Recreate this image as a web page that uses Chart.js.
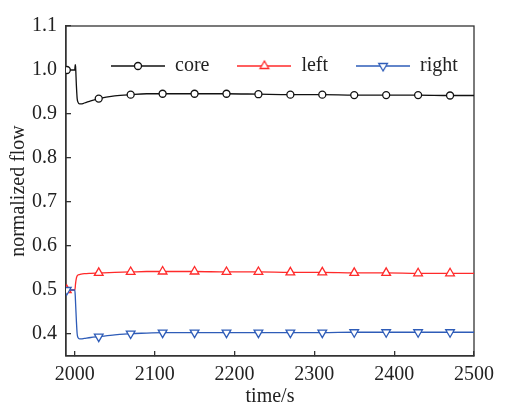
<!DOCTYPE html>
<html><head><meta charset="utf-8">
<script src="https://cdn.jsdelivr.net/npm/chart.js@4/dist/chart.umd.min.js"></script>
<style>html,body{margin:0;padding:0;background:#fff}#wrap{width:506px;height:407px;position:relative}</style>
</head><body><div id="wrap"><canvas id="c"></canvas></div>
<script>
// ---- data ----
const time  = [1990, 1995, 1999.5, 2000, 2000.5, 2001, 2002, 2003, 2004, 2006, 2008, 2012, 2020, 2030, 2050, 2070, 2090, 2110, 2150, 2190, 2230, 2270, 2310, 2350, 2390, 2430, 2470, 2500];
const core  = [1.000, 1.000, 1.000, 1.000, 1.012, 1.008, 0.965, 0.935, 0.927, 0.923, 0.923, 0.925, 0.930, 0.935, 0.941, 0.944, 0.946, 0.946, 0.946, 0.946, 0.945, 0.944, 0.944, 0.943, 0.943, 0.943, 0.942, 0.942];
const left  = [0.500, 0.500, 0.500, 0.500, 0.505, 0.515, 0.527, 0.532, 0.534, 0.535, 0.536, 0.537, 0.538, 0.539, 0.540, 0.541, 0.542, 0.542, 0.542, 0.541, 0.541, 0.540, 0.540, 0.539, 0.539, 0.538, 0.538, 0.538];
const right = [0.500, 0.500, 0.500, 0.500, 0.490, 0.470, 0.430, 0.400, 0.392, 0.389, 0.389, 0.390, 0.392, 0.394, 0.398, 0.401, 0.402, 0.403, 0.403, 0.403, 0.403, 0.403, 0.403, 0.404, 0.404, 0.404, 0.404, 0.404];
const markerTimes = [1990, 2030, 2070, 2110, 2150, 2190, 2230, 2270, 2310, 2350, 2390, 2430, 2470];
const seriesNames = ['core', 'left', 'right'];
const xTicks = [2000, 2100, 2200, 2300, 2400, 2500];
const yTicks = [0.4, 0.5, 0.6, 0.7, 0.8, 0.9, 1.0, 1.1];

// ---- styles ----
const FONT = 'Liberation Serif, Times New Roman, serif';
const TXT = '#222';
const AX = '#333';
const colors = ['#111111', '#ff2a2a', '#2e5cb8'];
const styles = ['circle', 'triangle', 'triangle'];
const rotations = [0, 0, 180];
const radii = [3.5, 5, 5];

function makeIcon(color, kind, rot) {
  const c = document.createElement('canvas');
  c.width = 54; c.height = 14;
  const g = c.getContext('2d');
  g.strokeStyle = color; g.lineWidth = 1.3;
  g.beginPath(); g.moveTo(0, 7); g.lineTo(54, 7); g.stroke();
  g.fillStyle = '#fff';
  g.beginPath();
  if (kind === 'circle') {
    g.arc(27, 7, 3.5, 0, Math.PI * 2);
  } else {
    const r = 5, s = rot ? -1 : 1;
    g.moveTo(27, 7 - s * r);
    g.lineTo(27 + r * 0.866, 7 + s * r * 0.5);
    g.lineTo(27 - r * 0.866, 7 + s * r * 0.5);
    g.closePath();
  }
  g.fill(); g.stroke();
  return c;
}
const icons = colors.map((c, i) => makeIcon(c, styles[i], rotations[i]));

const seriesData = [core, left, right];
const datasets = seriesData.map((vals, i) => ({
  label: seriesNames[i],
  data: time.map((t, k) => ({x: t, y: vals[k]})),
  borderColor: colors[i],
  borderWidth: 1.3,
  backgroundColor: '#fff',
  pointStyle: styles[i],
  rotation: rotations[i],
  pointBackgroundColor: '#fff',
  pointBorderColor: colors[i],
  pointBorderWidth: 1.3,
  pointRadius: ctx => markerTimes.includes(time[ctx.dataIndex]) ? radii[i] : 0,
  pointHoverRadius: ctx => markerTimes.includes(time[ctx.dataIndex]) ? radii[i] : 0,
  cubicInterpolationMode: 'monotone',
  fill: false,
  order: [0, 2, 1][i]
}));

const LEG_PAD = 28;
const framePlugin = {
  id: 'frame',
  afterLayout(chart) {
    const lg = chart.legend;
    if (lg) {
      const a = chart.chartArea;
      lg.left = 111 - LEG_PAD;
      lg.right = 900;
      lg.width = lg.right - lg.left;
      lg.top = a.top + 45 - LEG_PAD - 15;
      lg.bottom = lg.top + 80;
      lg.height = 80;
    }
  },
  beforeDatasetsDraw(chart) {
    const a = chart.chartArea, g = chart.ctx;
    g.save(); g.strokeStyle = AX; g.lineWidth = 1.3;
    g.strokeRect(a.left, a.top, a.right - a.left, a.bottom - a.top);
    g.restore();
  }
};

new Chart(document.getElementById('c'), {
  type: 'line',
  data: {datasets},
  plugins: [framePlugin],
  options: {
    responsive: true, maintainAspectRatio: false, animation: false, devicePixelRatio: 1,
    layout: {padding: {left: 0, right: 24, top: 19, bottom: 0}},
    plugins: {
      tooltip: {enabled: false},
      legend: {
        position: 'top', align: 'start', maxHeight: 1,
        labels: {
          usePointStyle: true, pointStyleWidth: 54, boxHeight: 14, padding: LEG_PAD,
          font: {family: FONT, size: 20}, color: TXT,
          generateLabels: () => seriesNames.map((n, i) => ({
            text: n, pointStyle: icons[i], fillStyle: '#fff', strokeStyle: colors[i],
            lineWidth: 0, hidden: false, datasetIndex: i, fontColor: TXT
          }))
        }
      }
    },
    scales: {
      x: {
        type: 'linear', min: 1989, max: 2500,
        afterBuildTicks: s => { s.ticks = xTicks.map(v => ({value: v})); },
        afterFit: s => { s.height = 51; },
        ticks: {font: {family: FONT, size: 20}, color: TXT, padding: 12, maxRotation: 0, autoSkip: false, callback: v => String(v)},
        grid: {drawOnChartArea: false, drawTicks: true, tickLength: -5, color: AX, tickColor: AX, lineWidth: 1.3},
        border: {display: true, color: AX, width: 1.3},
        title: {display: true, text: 'time/s', font: {family: FONT, size: 20, lineHeight: 1}, color: TXT, padding: {top: 0, bottom: 0}}
      },
      y: {
        type: 'linear', min: 0.35, max: 1.1,
        afterBuildTicks: s => { s.ticks = yTicks.map(v => ({value: v})); },
        afterFit: s => { s.width = 66; },
        ticks: {font: {family: FONT, size: 20}, color: TXT, padding: 14, autoSkip: false, callback: v => Number(v).toFixed(1)},
        grid: {drawOnChartArea: false, drawTicks: true, tickLength: -5, color: AX, tickColor: AX, lineWidth: 1.3},
        border: {display: true, color: AX, width: 1.3},
        title: {display: true, text: 'normalized flow', font: {family: FONT, size: 20, lineHeight: 1}, color: TXT, padding: {top: 9, bottom: 0}}
      }
    }
  }
});
</script></body></html>
